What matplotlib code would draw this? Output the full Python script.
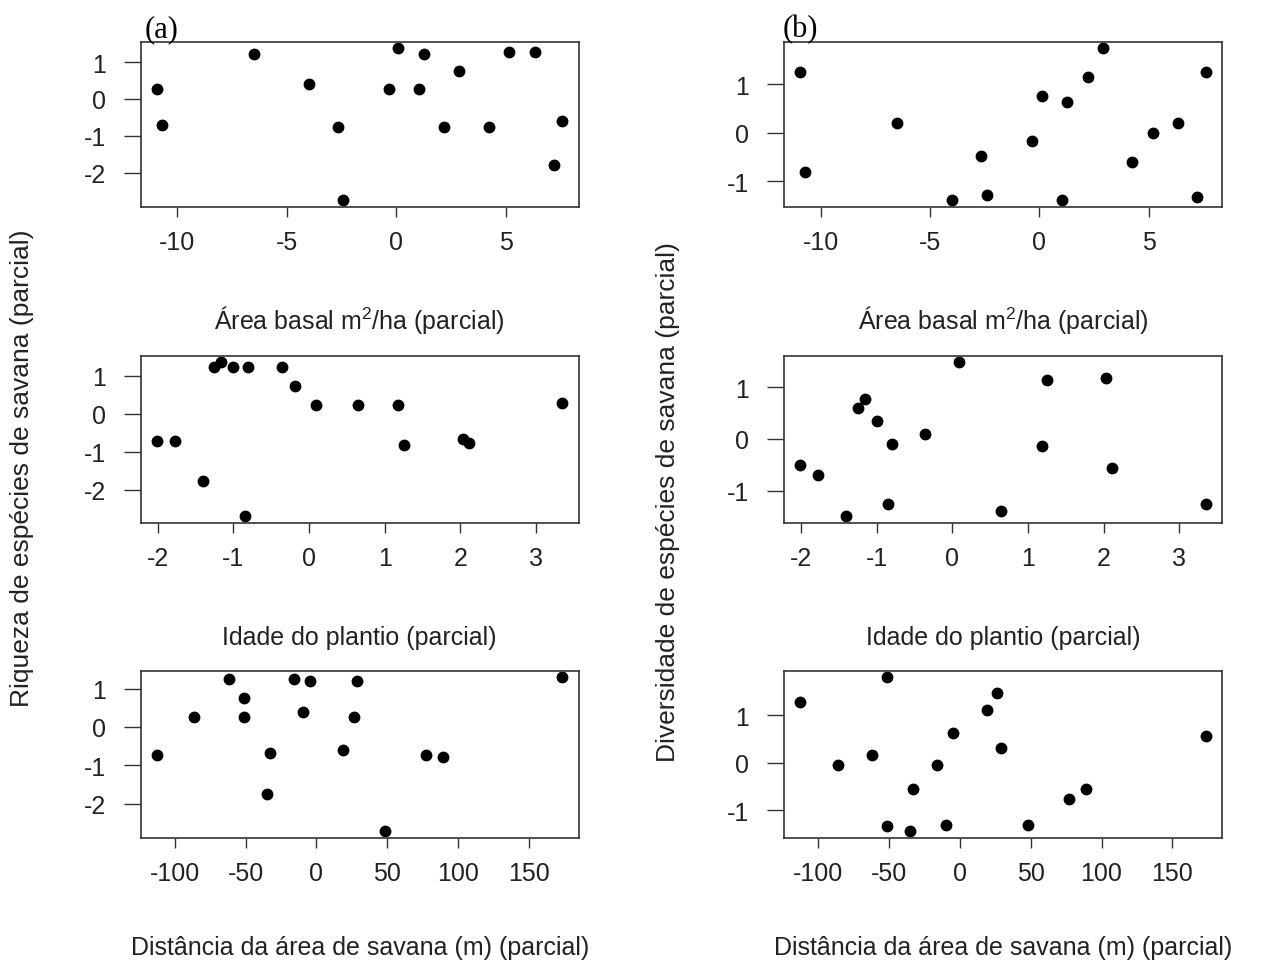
import numpy as np
import matplotlib
matplotlib.use('Agg')
import matplotlib.pyplot as plt

# partial residuals (sorted by x)
area = [-10.93, -10.70, -6.50, -3.99, -2.66, -2.41, -0.32, 0.10, 1.03, 1.27,
        2.20, 2.89, 4.23, 5.17, 6.35, 7.20, 7.60]
rich_area = [0.26, -0.70, 1.22, 0.40, -0.75, -2.75, 0.26, 1.38, 0.26, 1.22,
             -0.75, 0.77, -0.75, 1.28, 1.28, -1.80, -0.60]
div_area = [1.26, -0.80, 0.21, -1.39, -0.48, -1.28, -0.17, 0.77, -1.39, 0.63,
            1.16, 1.75, -0.59, 0.00, 0.21, -1.32, 1.26]

idade = [-2.01, -1.77, -1.40, -1.25, -1.16, -1.00, -0.85, -0.80, -0.36, -0.19,
         0.09, 0.65, 1.18, 1.25, 2.03, 2.11, 3.35]
rich_idade = [-0.73, -0.73, -1.76, 1.23, 1.35, 1.23, -2.70, 1.23, 1.23, 0.72,
              0.22, 0.22, 0.22, -0.82, -0.67, -0.77, 0.28]
# one point is not visible in panel (b)
div_idade = [-0.50, -0.70, -1.50, 0.60, 0.77, 0.34, -1.26, -0.10, 0.10, np.nan,
             1.48, -1.40, -0.13, 1.14, 1.17, -0.56, -1.26]

dist = [-112.5, -86.1, -61.9, -51.0, -51.0, -35.1, -32.9, -15.8, -9.8, -4.9,
        18.9, 26.2, 28.9, 48.0, 77.0, 89.0, 173.5]
rich_dist = [-0.72, 0.26, 1.24, 0.76, 0.26, -1.75, -0.68, 1.24, 0.39, 1.20,
             -0.59, 0.26, 1.20, -2.72, -0.72, -0.77, 1.29]
div_dist = [1.28, -0.05, 0.17, 1.79, -1.33, -1.44, -0.55, -0.04, -1.30, 0.63,
            1.10, 1.47, 0.31, -1.30, -0.76, -0.55, 0.57]

xlabels = [r'Área basal m$^2$/ha (parcial)', 'Idade do plantio (parcial)',
           'Distância da área de savana (m) (parcial)']
xticks = [[-10, -5, 0, 5], [-2, -1, 0, 1, 2, 3], [-100, -50, 0, 50, 100, 150]]
yticks_a = [[-2, -1, 0, 1], [-2, -1, 0, 1], [-2, -1, 0, 1]]
yticks_b = [[-1, 0, 1], [-1, 0, 1], [-1, 0, 1]]

plt.rcParams['font.family'] = ['Liberation Sans', 'DejaVu Sans']
plt.rcParams['mathtext.fontset'] = 'custom'
plt.rcParams['mathtext.rm'] = 'Liberation Sans'
plt.rcParams['axes.unicode_minus'] = False
txt = '#222222'
fs = 18

W, H = 1268, 970
fig = plt.figure(figsize=(W / 100, H / 100), dpi=100)

lefts = [140.7, 784]
width = 438
rows = [(43, 207.5), (357.3, 523.5), (672.3, 838.5)]
xlab_y = [320, 638, 948]

cols = [
    [(area, rich_area), (idade, rich_idade), (dist, rich_dist)],
    [(area, div_area), (idade, div_idade), (dist, div_dist)],
]
yt = [yticks_a, yticks_b]

for c in range(2):
    for r in range(3):
        top, bot = rows[r]
        ax = fig.add_axes([lefts[c] / W, 1 - bot / H, width / W, (bot - top) / H])
        x, y = cols[c][r]
        ax.plot(x, y, 'o', color='black', ms=7.5, ls='none')
        ax.margins(0.04)
        ax.set_xticks(xticks[r])
        ax.set_yticks(yt[c][r])
        ax.tick_params(axis='x', length=7, width=1, pad=10, labelsize=fs,
                       colors='#333333', labelcolor=txt)
        ax.tick_params(axis='y', length=12, width=1, pad=13, labelsize=fs,
                       colors='#333333', labelcolor=txt)
        for s in ax.spines.values():
            s.set_color('#333333')
            s.set_linewidth(1.2)
        fig.text((lefts[c] + width / 2) / W, 1 - xlab_y[r] / H, xlabels[r],
                 ha='center', va='center', fontsize=fs, color=txt)

fig.text(145 / W, 1 - 37 / H, '(a)', family='Liberation Serif', fontsize=22,
         ha='left', va='baseline')
fig.text(783 / W, 1 - 37 / H, '(b)', family='Liberation Serif', fontsize=22,
         ha='left', va='baseline')

fig.text(22 / W, 1 - 468 / H, 'Riqueza de espécies de savana (parcial)',
         rotation=90, ha='center', va='center', fontsize=fs + 1, color=txt)
fig.text(668 / W, 1 - 502 / H, 'Diversidade de espécies de savana (parcial)',
         rotation=90, ha='center', va='center', fontsize=fs + 1, color=txt)

fig.savefig('out.png', dpi=100)
